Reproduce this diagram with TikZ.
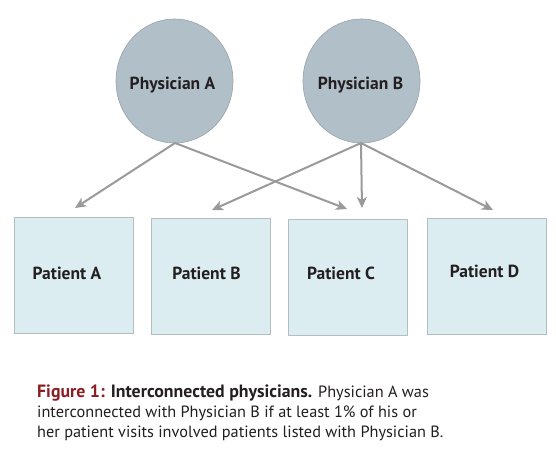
\documentclass[tikz,border=0pt]{standalone}
\usepackage{fontspec}
\setmainfont{PT Sans}
\usetikzlibrary{arrows.meta,shapes.geometric}
\definecolor{circfill}{HTML}{B1BFC9}
\definecolor{circdraw}{HTML}{9AA3A8}
\definecolor{boxfill}{HTML}{DCEDF1}
\definecolor{boxdraw}{HTML}{B4BEC2}
\definecolor{arrowgray}{HTML}{9A9A9A}
\definecolor{txt}{HTML}{231F20}
\definecolor{figred}{HTML}{8A1E22}
\newcommand{\capbold}[1]{{\fontsize{17.8}{20}\selectfont\bfseries #1}}
\tikzset{
  physician/.style={ellipse, draw=circdraw, fill=circfill, line width=0.6pt, minimum width=117pt, minimum height=124pt, inner sep=0pt},
  patient/.style={rectangle, draw=boxdraw, fill=boxfill, line width=0.8pt, minimum width=119pt, minimum height=116pt, inner sep=0pt},
  plabel/.style={text=txt, font=\fontsize{17.5}{20}\selectfont\bfseries, inner sep=0pt},
  link/.style={draw=arrowgray, line width=2pt, -{Stealth[length=11pt, width=10pt, inset=3pt]}},
  capline/.style={anchor=base west, inner sep=0pt, text=txt, font=\fontsize{16.3}{20}\selectfont}
}
\begin{document}
\begin{tikzpicture}[x=1pt, y=-1pt]
\useasboundingbox (0,0) rectangle (556,460);
\fill[white] (0,0) rectangle (556,460);
% physicians
\node[physician] (phA) at (174.5,81) {};
\node[physician] (phB) at (361.5,81) {};
\node[plabel] (lphA) at (172.5,85) {Physician A};
\node[plabel] (lphB) at (360.5,85) {Physician B};
% patients
\node[patient] (ptA) at (74,275) {};
\node[patient] (ptB) at (211,276) {};
\node[patient] (ptC) at (347.5,277) {};
\node[patient] (ptD) at (486.5,276) {};
\node[plabel] (lA) at (67,273) {Patient A};
\node[plabel] (lB) at (206.5,273) {Patient B};
\node[plabel] (lC) at (341,273) {Patient C};
\node[plabel] (lD) at (484.5,271) {Patient D};
% arrow ends
\coordinate (oA) at (175,143);
\coordinate (oB) at (361,143);
\coordinate (tA) at (75,208);
\coordinate (tAC) at (347,209);
\coordinate (tBB) at (212,210);
\coordinate (tBC) at (362,208);
\coordinate (tBD) at (493,210);
\draw[link] (oA) -- (tA);
\draw[link] (oA) -- (tAC);
\draw[link] (oB) -- (tBB);
\draw[link] (oB) -- (tBC);
\draw[link] (oB) -- (tBD);
% caption
\node[capline] (c1) at (37,397) {\capbold{\textcolor{figred}{Figure 1:} Interconnected physicians.} Physician A was};
\node[capline] (c2) at (37,417) {interconnected with Physician B if at least 1\% of his or};
\node[capline] (c3) at (37,437) {her patient visits involved patients listed with Physician B.};
\end{tikzpicture}
\end{document}
